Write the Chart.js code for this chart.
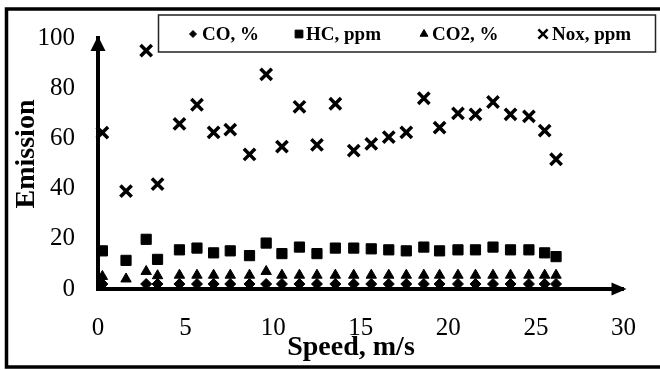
<!DOCTYPE html>
<html>
<head>
<meta charset="utf-8">
<script src="https://cdn.jsdelivr.net/npm/chart.js@4"></script>
<style>
    body { margin: 0; background: #fff; }
    #wrap { width: 660px; height: 370px; }
</style>
</head>
<body>
<div id="wrap"><canvas id="emissionChart" width="660" height="370"></canvas></div>
<script>
// Data (CO at 1.6 m/s is not visible, left empty)
const speed = [0.25, 1.6, 2.75, 3.4, 4.65, 5.65, 6.6, 7.55, 8.65, 9.6, 10.5, 11.5, 12.5, 13.55,
    14.6, 15.6, 16.6, 17.6, 18.6, 19.5, 20.55, 21.55, 22.55, 23.55, 24.6, 25.5, 26.15];
const coPct = [2, null, 2, 2, 2, 2, 2, 2, 2, 2, 2, 2, 2, 2, 2, 2, 2, 2, 2, 2, 2, 2, 2, 2, 2, 2, 2];
const hcPpm = [15.2, 11.4, 19.8, 11.8, 15.6, 16.3, 14.4, 15.2, 13.3, 18.3, 14.1, 16.7, 14.1, 16.3,
    16.3, 16, 15.6, 15.2, 16.7, 15.2, 15.6, 15.6, 16.7, 15.6, 15.6, 14.4, 12.9];
const co2Pct = [5, 4, 7, 5.3, 5.5, 5.5, 5.5, 5.5, 5.5, 7, 5.5, 5.5, 5.5, 5.5,
    5.5, 5.5, 5.5, 5.5, 5.5, 5.5, 5.5, 5.5, 5.5, 5.5, 5.5, 5.5, 5.5];
const noxPpm = [62.3, 39, 95, 41.8, 65.8, 73.4, 62.4, 63.5, 53.6, 85.5, 56.7, 72.6, 57.4, 73.8,
    55.1, 57.8, 60.5, 62.4, 76, 64.3, 70, 69.6, 74.5, 69.6, 68.8, 63.1, 51.7];
const seriesLabels = ['CO, %', 'HC, ppm', 'CO2, %', 'Nox, ppm'];
const xTicks = [0, 5, 10, 15, 20, 25, 30];
const yTicks = [0, 20, 40, 60, 80, 100];

const serif = '"Liberation Serif", "Times New Roman", serif';
Chart.defaults.color = '#000';

function toPoints(values) {
    return speed.map((s, i) => ({ x: s, y: values[i] }));
}

// marker look per series (also reused by the legend)
const markers = [
    { pointStyle: 'rectRot', radius: 5.5, borderWidth: 1, legendRadius: 3.5, legendWidth: 1 },
    { pointStyle: 'rect', radius: 7.2, borderWidth: 1, legendRadius: 5.5, legendWidth: 1 },
    { pointStyle: 'triangle', radius: 6, borderWidth: 1, legendRadius: 4.5, legendWidth: 1 },
    { pointStyle: 'crossRot', radius: 8, borderWidth: 3.5, legendRadius: 6.5, legendWidth: 2.5 }
];
const seriesValues = [coPct, hcPpm, co2Pct, noxPpm];

const datasets = seriesLabels.map((label, i) => ({
    label: label,
    data: toPoints(seriesValues[i]),
    pointStyle: markers[i].pointStyle,
    pointRadius: markers[i].radius,
    pointBorderWidth: markers[i].borderWidth,
    pointBackgroundColor: '#000',
    pointBorderColor: '#000',
    showLine: false,
    clip: false
}));

// frame, axis arrows, axis titles and the boxed legend
const decorations = {
    id: 'decorations',
    afterDraw(chart) {
        const ctx = chart.ctx;
        const area = chart.chartArea;
        ctx.save();

        // outer frame (right side is cut off in the source)
        ctx.strokeStyle = '#000';
        ctx.lineWidth = 3.5;
        ctx.strokeRect(6.5, 9, 700, 358);

        // arrow heads
        ctx.fillStyle = '#000';
        ctx.beginPath();
        ctx.moveTo(area.left, area.top - 2);
        ctx.lineTo(area.left - 7.5, area.top + 13);
        ctx.lineTo(area.left + 7.5, area.top + 13);
        ctx.closePath();
        ctx.fill();
        ctx.beginPath();
        ctx.moveTo(area.right + 3, area.bottom);
        ctx.lineTo(area.right - 12, area.bottom - 6.5);
        ctx.lineTo(area.right - 12, area.bottom + 6.5);
        ctx.closePath();
        ctx.fill();

        // axis titles
        ctx.font = 'bold 28px ' + serif;
        ctx.textAlign = 'center';
        ctx.textBaseline = 'middle';
        ctx.fillText('Speed, m/s', 351, 348);
        ctx.translate(27, 154);
        ctx.rotate(-Math.PI / 2);
        ctx.fillText('Emission', 0, 0);
        ctx.setTransform(1, 0, 0, 1, 0, 0);

        // legend box
        ctx.strokeStyle = '#222';
        ctx.lineWidth = 1.5;
        ctx.strokeRect(158.5, 15, 497, 37);
        const markerX = [193, 299, 424, 543];
        const textX = [202, 306, 432, 552];
        ctx.font = 'bold 19px ' + serif;
        ctx.textAlign = 'left';
        seriesLabels.forEach((label, i) => {
            ctx.fillStyle = '#000';
            ctx.strokeStyle = '#000';
            ctx.lineWidth = markers[i].legendWidth;
            Chart.helpers.drawPoint(ctx, {
                pointStyle: markers[i].pointStyle,
                radius: markers[i].legendRadius,
                borderWidth: markers[i].legendWidth,
                rotation: 0
            }, markerX[i], 34);
            ctx.fillText(label, textX[i], 35);
        });
        ctx.restore();
    }
};

new Chart(document.getElementById('emissionChart'), {
    type: 'scatter',
    data: { datasets: datasets },
    options: {
        responsive: false,
        animation: false,
        layout: { padding: { top: 25, right: 28, left: 0, bottom: 0 } },
        plugins: {
            legend: { display: false },
            tooltip: { enabled: false }
        },
        scales: {
            x: {
                type: 'linear',
                min: 0,
                max: 30,
                afterBuildTicks: (scale) => { scale.ticks = xTicks.map(v => ({ value: v })); },
                afterFit: (scale) => { scale.height = 81; },
                ticks: { font: { family: serif, size: 25 }, padding: 24, maxRotation: 0 },
                grid: { display: false, drawTicks: false },
                border: { display: true, color: '#000', width: 4 }
            },
            y: {
                min: 0,
                max: 100,
                afterBuildTicks: (scale) => { scale.ticks = yTicks.map(v => ({ value: v })); },
                afterFit: (scale) => { scale.width = 98; },
                ticks: { font: { family: serif, size: 25 }, padding: 23 },
                grid: { display: false, drawTicks: false },
                border: { display: true, color: '#000', width: 4 }
            }
        }
    },
    plugins: [decorations]
});
</script>
</body>
</html>
